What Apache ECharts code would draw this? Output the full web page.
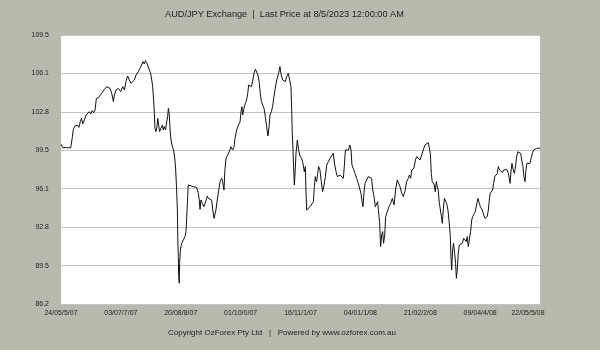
<!DOCTYPE html>
<html>
<head>
<meta charset="utf-8">
<title>AUD/JPY Exchange</title>
<script src="https://cdn.jsdelivr.net/npm/echarts@6/dist/echarts.min.js"></script>
<style>
  html, body { margin: 0; padding: 0; background: #b9b9ad; }
  #chart { width: 600px; height: 350px; }
</style>
</head>
<body>
<div id="chart"></div>
<script>
// Header and footer text
const chartTitle = 'AUD/JPY Exchange  |  Last Price at 8/5/2023 12:00:00 AM';
const footerText = 'Copyright OzForex Pty Ltd   |   Powered by www.ozforex.com.au';

// Date labels, one every 32 trading days
const dateLabels = ['24/05/5/07', '03/07/7/07', '20/08/8/07', '01/10/0/07', '16/11/1/07',
                    '04/01/1/08', '21/02/2/08', '09/04/4/08', '22/05/5/08'];
const labelStep = 32;

// Rate axis labels (evenly spaced from min to max)
const yTickLabels = ['86.2', '89.5', '92.8', '96.1', '99.5', '102.8', '106.1', '109.5'];

// Trading day index since 24/05/2007
const tradingDay = [
  0, 0.9, 5.2, 6.1, 6.6, 7.5, 8.7, 9.6, 10.3, 11.0, 11.6, 12.5, 13.4, 14.3, 15.1, 15.9, 16.7, 17.5, 18.2, 18.9,
  20.0, 20.8, 21.7, 23.2, 24.4, 25.3, 26.2, 27.1, 28.0, 28.5, 29.4, 30.6, 31.9, 33.0, 33.9, 34.7, 35.6, 36.5, 37.4, 38.3,
  39.2, 40.1, 41.3, 42.2, 43.1, 43.8, 44.5, 45.1, 45.8, 46.3, 47.2, 47.9, 48.5, 49.0, 49.5, 49.9, 50.2, 50.8, 51.3, 51.7,
  52.2, 52.7, 53.4, 54.2, 54.7, 55.2, 55.9, 56.5, 57.0, 57.4, 57.9, 58.3, 58.8, 59.5, 60.2, 60.9, 61.3, 61.8, 62.2, 62.4,
  62.7, 62.9, 63.2, 63.4, 63.8, 64.5, 65.4, 66.3, 66.8, 67.2, 67.7, 68.0, 68.9, 70.7, 72.5, 73.4, 73.9, 74.3, 74.8, 75.5,
  76.4, 77.3, 78.2, 78.7, 79.6, 80.5, 81.1, 81.8, 82.3, 82.8, 83.5, 84.3, 85.0, 85.9, 86.4, 87.1, 87.6, 88.2, 89.1, 89.8,
  90.3, 90.8, 91.7, 92.5, 93.0, 93.9, 94.8, 95.7, 96.2, 96.7, 97.1, 97.8, 98.5, 99.2, 99.8, 100.3, 101.0, 101.7, 102.4, 103.1,
  103.9, 104.6, 105.3, 106.0, 106.5, 107.1, 107.8, 108.5, 109.2, 109.9, 110.6, 111.2, 111.7, 112.4, 113.1, 113.8, 114.5, 115.3, 115.8, 116.3,
  117.0, 117.7, 118.5, 119.2, 119.9, 120.6, 121.5, 122.4, 122.9, 123.3, 123.6, 124.0, 124.3, 124.7, 125.0, 125.6, 126.3, 127.0, 127.7, 128.6,
  129.5, 130.0, 130.6, 130.9, 131.3, 132.2, 133.1, 134.0, 134.9, 135.4, 135.9, 136.6, 137.2, 137.7, 138.4, 139.1, 139.8, 140.6, 141.3, 142.0,
  142.9, 143.8, 144.6, 145.5, 146.3, 147.0, 147.7, 148.4, 149.1, 150.0, 150.9, 151.4, 152.0, 152.7, 153.6, 154.4, 155.0, 155.5, 156.2, 157.1,
  158.0, 158.9, 159.8, 160.3, 160.9, 161.4, 161.9, 162.5, 163.4, 164.2, 165.1, 166.0, 166.6, 167.3, 168.0, 168.7, 169.2, 169.8, 170.3, 170.8,
  171.4, 171.9, 172.4, 173.0, 173.5, 174.4, 175.3, 176.2, 177.1, 178.0, 178.8, 179.7, 180.3, 181.2, 182.1, 182.9, 183.8, 184.7, 185.6, 186.2,
  186.9, 187.4, 187.9, 188.6, 189.4, 190.1, 191.0, 191.9, 192.7, 193.6, 194.5, 195.4, 196.3, 196.8, 197.4, 197.9, 198.4, 199.0, 199.5, 200.0,
  200.6, 201.1, 201.6, 202.2, 202.5, 203.3, 203.8, 204.3, 204.9, 205.4, 206.1, 206.8, 207.5, 208.1, 208.4, 208.8, 209.3, 209.8, 210.4, 210.9,
  211.3, 211.8, 212.3, 212.9, 213.6, 214.5, 215.2, 215.9, 216.6, 217.1, 217.7, 218.2, 218.9, 219.5, 220.0, 220.7, 221.4, 222.1, 222.8, 223.6,
  224.1, 224.6, 225.2, 225.9, 226.6, 227.3, 227.8, 228.4, 228.9, 229.4, 230.2, 230.7, 231.2, 231.8, 232.5, 233.2, 233.7, 234.4, 235.1, 235.9,
  236.6, 237.3, 238.2, 239.1, 240.0, 240.5, 241.0, 241.7, 242.3, 242.8, 243.5, 244.2, 244.9, 245.7, 246.2, 246.9, 247.4, 248.0, 248.5, 249.0,
  249.7, 250.6, 251.4, 251.9, 252.6, 253.3, 254.2, 255.1, 256
];

// AUD/JPY closing rate for each trading day above
const audJpy = [
  100.03, 99.74, 99.74, 100.69, 101.33, 101.62, 101.70, 101.50, 101.99, 102.28, 101.79, 102.14, 102.57, 102.71, 102.86, 102.66, 102.95, 102.77, 103.00, 104.01,
  104.07, 104.16, 104.45, 104.79, 105.02, 105.17, 104.88, 104.45, 103.73, 104.30, 104.74, 104.88, 104.59, 105.02, 104.74, 105.46, 105.95, 105.60, 105.31, 105.17,
  105.60, 106.03, 106.32, 106.61, 106.90, 107.19, 106.99, 107.28, 107.10, 106.90, 106.47, 106.18, 105.60, 105.02, 103.87, 102.71, 101.42, 101.13, 101.56, 102.28,
  101.70, 101.13, 101.42, 101.70, 101.27, 101.56, 101.27, 101.99, 102.43, 103.15, 102.57, 101.27, 100.41, 99.83, 99.54, 98.67, 97.81, 96.07, 94.34, 92.03,
  90.30, 88.57, 88.00, 89.72, 90.88, 91.46, 91.60, 92.03, 92.47, 93.77, 95.50, 96.51, 96.36, 96.36, 96.31, 95.79, 95.21, 94.40, 95.21, 94.92,
  94.63, 95.06, 95.55, 95.35, 95.50, 95.21, 94.34, 93.62, 93.48, 94.34, 95.21, 96.07, 96.80, 97.09, 96.80, 96.07, 97.81, 98.82, 99.11, 98.96,
  99.54, 99.83, 99.54, 99.83, 100.55, 101.27, 101.70, 101.99, 102.86, 103.29, 102.57, 103.15, 103.58, 103.87, 104.45, 105.17, 105.31, 105.02, 105.46, 106.18,
  106.53, 106.41, 106.03, 105.31, 104.45, 103.73, 103.58, 103.15, 102.43, 101.56, 100.75, 101.56, 102.57, 102.86, 103.29, 104.16, 104.88, 105.60, 105.46, 106.18,
  106.76, 106.03, 105.60, 105.75, 105.46, 105.89, 106.18, 106.03, 105.02, 103.00, 100.98, 99.54, 98.10, 96.51, 97.23, 99.25, 100.41, 99.54, 99.02, 98.82,
  98.24, 97.66, 98.10, 96.07, 94.34, 94.49, 94.63, 94.78, 95.06, 96.36, 97.23, 96.80, 97.52, 98.10, 97.81, 96.80, 95.93, 96.51, 97.23, 98.24,
  98.53, 98.82, 98.96, 99.25, 98.24, 97.66, 97.23, 97.37, 97.37, 97.37, 97.09, 98.10, 99.54, 99.68, 99.54, 99.97, 99.54, 98.24, 97.95, 97.52,
  97.09, 96.65, 96.51, 95.79, 95.06, 94.63, 95.79, 96.65, 96.51, 97.23, 97.23, 97.09, 96.07, 95.50, 94.63, 94.63, 95.06, 94.05, 93.19, 91.17,
  92.18, 92.47, 91.46, 92.18, 93.77, 94.20, 94.63, 94.92, 95.35, 94.78, 96.07, 96.94, 97.09, 96.36, 95.79, 95.50, 95.93, 96.80, 97.09, 97.37,
  97.09, 97.81, 97.86, 97.95, 98.67, 98.96, 99.11, 98.67, 98.82, 99.54, 99.97, 100.12, 100.17, 100.26, 99.25, 97.52, 96.80, 96.94, 96.51, 95.93,
  96.80, 96.36, 96.07, 94.92, 94.63, 93.77, 93.19, 94.34, 95.35, 95.50, 94.92, 94.34, 93.19, 92.03, 90.30, 89.15, 90.88, 91.46, 90.59, 89.72,
  88.42, 89.15, 90.59, 91.31, 91.31, 91.46, 91.89, 91.89, 91.60, 92.03, 91.17, 91.74, 92.47, 93.48, 93.77, 93.62, 94.20, 94.78, 95.35, 94.92,
  94.63, 94.78, 94.34, 93.91, 93.62, 93.48, 93.77, 94.34, 95.21, 95.79, 95.93, 96.07, 96.65, 97.23, 97.37, 97.52, 98.10, 97.81, 97.66, 97.58,
  97.81, 97.66, 97.86, 97.52, 96.65, 97.66, 98.38, 97.81, 97.52, 97.95, 98.96, 99.39, 99.54, 99.25, 98.67, 98.10, 97.23, 96.80, 97.81, 98.38,
  98.33, 98.38, 98.53, 99.25, 99.54, 99.54, 99.68, 99.83, 99.70
];

const yMin = 86.2;
const yMax = 109.5;
const yStep = (yMax - yMin) / (yTickLabels.length - 1);
const yTickValues = yTickLabels.map((_, i) => (i === yTickLabels.length - 1 ? yMax : yMin + i * yStep));

const fontFamily = '"Liberation Sans", Arial, sans-serif';
const textColor = '#1e1e1e';

const chart = echarts.init(document.getElementById('chart'), null, { renderer: 'canvas' });

chart.setOption({
  animation: false,
  backgroundColor: '#b9b9ad',
  title: [
    {
      text: chartTitle,
      left: 165,
      top: 10,
      padding: 0,
      textStyle: { fontFamily, fontSize: 9.2, fontWeight: 'normal', color: textColor }
    },
    {
      text: footerText,
      left: 168,
      top: 329,
      padding: 0,
      textStyle: { fontFamily, fontSize: 8, fontWeight: 'normal', color: textColor }
    }
  ],
  grid: {
    left: 61,
    right: 60,
    top: 35,
    bottom: 46,
    show: true,
    backgroundColor: '#ffffff',
    borderWidth: 0
  },
  xAxis: {
    type: 'value',
    min: 0,
    max: labelStep * (dateLabels.length - 1),
    interval: labelStep,
    axisLine: { show: false },
    axisTick: { show: false },
    splitLine: { show: false },
    axisLabel: {
      margin: 6,
      fontFamily,
      fontSize: 7,
      color: textColor,
      showMinLabel: true,
      showMaxLabel: true,
      formatter: (v) => {
        const i = Math.round(v / labelStep);
        return i === dateLabels.length - 1 ? '{last|' + dateLabels[i] + '}' : dateLabels[i];
      },
      rich: {
        last: { fontFamily, fontSize: 7, color: textColor, padding: [0, 24, 0, 0] }
      }
    }
  },
  yAxis: {
    type: 'value',
    min: yMin,
    max: yMax,
    axisLine: { show: false },
    axisTick: { show: false, customValues: yTickValues },
    splitLine: { show: true, lineStyle: { color: '#c4c4c4', width: 1 } },
    axisLabel: {
      customValues: yTickValues,
      margin: 12,
      fontFamily,
      fontSize: 7,
      color: textColor,
      formatter: (v) => yTickLabels[Math.round((v - yMin) / yStep)]
    }
  },
  series: [
    {
      type: 'line',
      data: tradingDay.map((d, i) => [d, audJpy[i]]),
      showSymbol: false,
      lineStyle: { color: '#111111', width: 1 },
      silent: true
    }
  ]
});
</script>
</body>
</html>
